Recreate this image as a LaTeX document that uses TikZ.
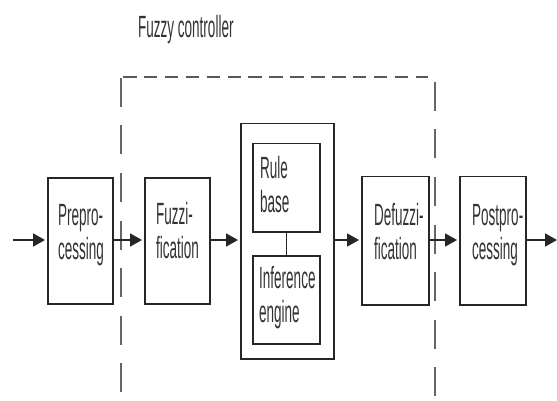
\documentclass[tikz,border=0pt]{standalone}
\usepackage{fontspec}
\usetikzlibrary{arrows.meta}
% narrow sans face used for every label
\newfontfamily\lblfont[FakeStretch=0.44]{Liberation Sans}
\begin{document}
\begin{tikzpicture}[x=1pt,y=-1pt,
  block/.style={draw=black!85,line width=1.5pt,rectangle,inner sep=0pt,anchor=north west},
  lbl/.style={font=\lblfont\fontsize{30.7}{34}\selectfont,text=black!80,inner sep=0pt,anchor=base west,align=left},
  flow/.style={draw=black!85,line width=1.8pt,-{Triangle[length=12pt,width=13pt]},shorten >=2pt},
  hdash/.style={draw=black!65,line width=2pt,dash pattern=on 13.5pt off 7.4pt},
  vdash/.style={draw=black!60,line width=1.4pt,dash pattern=on 29pt off 18.5pt}]
\useasboundingbox (0,0) rectangle (557,401);

% controller frame
\node[lbl] (title) at (138,38) {Fuzzy controller};
\draw[hdash] (123,77) -- (428,77);
\draw[vdash] (121,78) -- (121,398);
\draw[vdash] (435,82) -- (435,398);

% processing blocks
\node[block,minimum width=65pt,minimum height=126pt] (pre) at (47,177) {};
\node[block,minimum width=65pt,minimum height=126pt] (fuz) at (144,177) {};
\node[block,minimum width=93pt,minimum height=235pt] (core) at (240,123) {};
\node[block,minimum width=67pt,minimum height=88pt] (rule) at (252,143) {};
\node[block,minimum width=67pt,minimum height=88pt] (inf) at (252,255) {};
\node[block,minimum width=67pt,minimum height=128pt] (def) at (361,176) {};
\node[block,minimum width=66pt,minimum height=128pt] (post) at (459,176) {};

% two-line labels, anchored at the baseline of their last line
\node[lbl] (tpre) at (58,259) {Prepro-\\cessing};
\node[lbl] (tfuz) at (156,258) {Fuzzi-\\fication};
\node[lbl] (trule) at (260,212) {Rule\\base};
\node[lbl] (tinf) at (259,322) {Inference\\engine};
\node[lbl] (tdef) at (374,259) {Defuzzi-\\fication};
\node[lbl] (tpost) at (472,259) {Postpro-\\cessing};

% signal path
\coordinate (in) at (13,240);
\coordinate (out) at (557,240);
\draw[flow] (in) -- (pre.west |- in);
\draw[flow] (pre.east |- in) -- (fuz.west |- in);
\draw[flow] (fuz.east |- in) -- (core.west |- in);
\draw[flow] (core.east |- in) -- (def.west |- in);
\draw[flow] (def.east |- in) -- (post.west |- in);
\draw[flow,shorten >=0pt] (post.east |- in) -- (out);
\draw[draw=black!85,line width=1.3pt] (rule.south) -- (inf.north);
\end{tikzpicture}
\end{document}
